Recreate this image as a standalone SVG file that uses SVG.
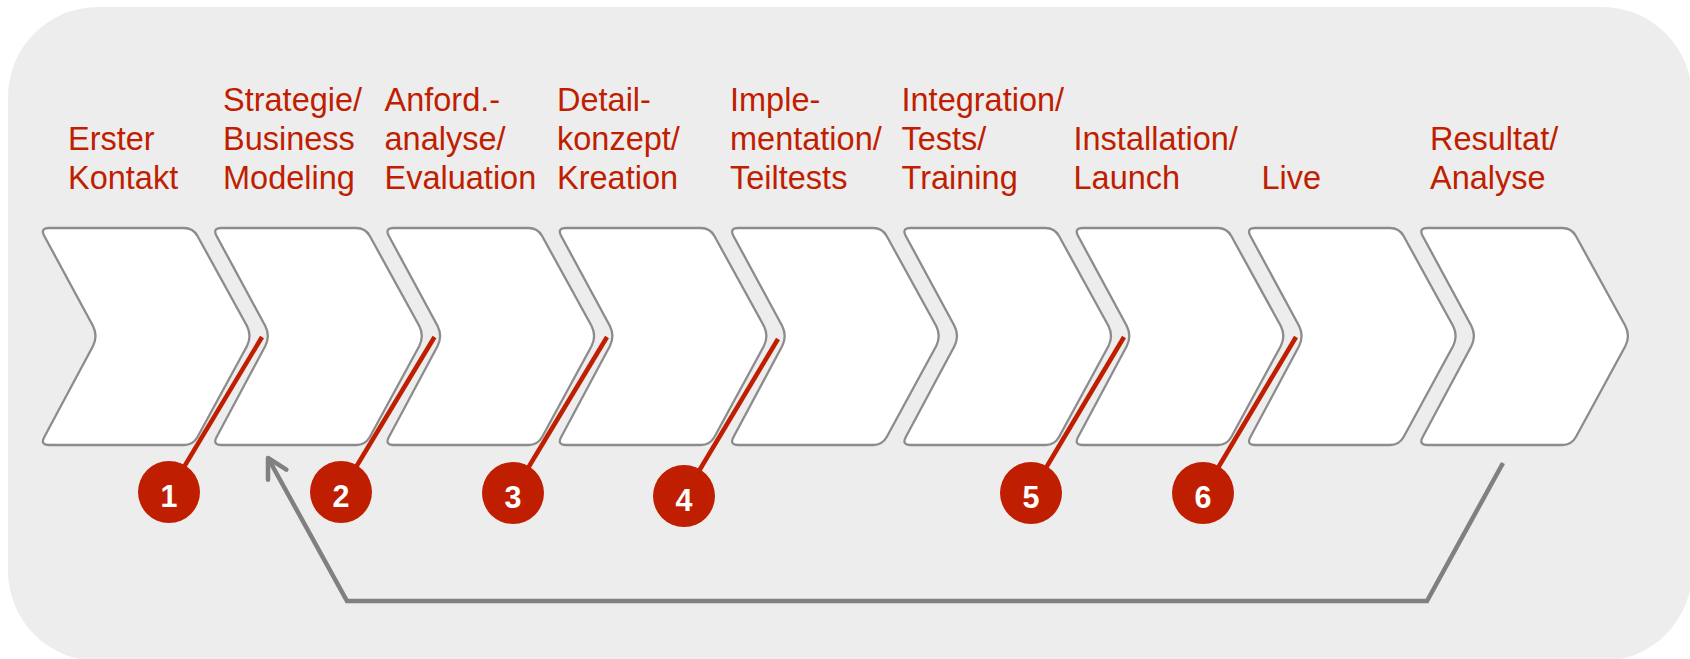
<svg xmlns="http://www.w3.org/2000/svg" xmlns:xlink="http://www.w3.org/1999/xlink" width="1690" height="659" viewBox="0 0 1690 659">
<style>
.lbl{font-family:"Liberation Sans",Arial,sans-serif;font-size:32.5px;fill:#c01e00}
.chev{fill:#ffffff;stroke:#8c8c8c;stroke-width:2.3}
.pin{stroke:#c01e00;stroke-width:4.5;fill:none}
.dot{fill:#c01e00}
.num{font-family:"Liberation Sans",Arial,sans-serif;font-size:30.5px;font-weight:bold;fill:#ffffff;text-anchor:middle}
.ret{fill:none;stroke:#808080;stroke-width:4.5;stroke-linejoin:miter}
</style>
<defs>
<path id="chev" d="M9,228 L144,228 Q153,228 157.5,236 L207,326 Q212,336 207,346 L157.5,437 Q153,445 144,445 L9,445 Q0,445 4.3,437 L53,346 Q58,336 53,326 L4.3,236 Q0,228 9,228 Z"/>
<marker id="arr" markerUnits="userSpaceOnUse" markerWidth="40" markerHeight="40" viewBox="-30 -20 40 40" refX="0" refY="0" orient="auto" overflow="visible">
<path d="M-19,-10.5 L0,0 L-19,10.5" fill="none" stroke="#808080" stroke-width="4.5" stroke-linecap="round" stroke-linejoin="round"/>
</marker>
</defs>
<rect x="8" y="7" width="1684" height="654" rx="90" ry="90" fill="#ededed"/>

<g id="step1"><use xlink:href="#chev" href="#chev" class="chev" x="40"/>
<text class="lbl" x="68" y="150">Erster</text><text class="lbl" x="68" y="189">Kontakt</text></g>
<g id="step2"><use xlink:href="#chev" href="#chev" class="chev" x="212.3"/>
<text class="lbl" x="223" y="111">Strategie/</text><text class="lbl" x="223" y="149.5">Business</text><text class="lbl" x="223" y="188.5">Modeling</text></g>
<g id="step3"><use xlink:href="#chev" href="#chev" class="chev" x="384.6"/>
<text class="lbl" x="384.5" y="111">Anford.-</text><text class="lbl" x="384.5" y="149.5">analyse/</text><text class="lbl" x="384.5" y="188.5">Evaluation</text></g>
<g id="step4"><use xlink:href="#chev" href="#chev" class="chev" x="556.9"/>
<text class="lbl" x="557" y="111">Detail-</text><text class="lbl" x="557" y="149.5">konzept/</text><text class="lbl" x="557" y="188.5">Kreation</text></g>
<g id="step5"><use xlink:href="#chev" href="#chev" class="chev" x="729.2"/>
<text class="lbl" x="730" y="111">Imple-</text><text class="lbl" x="730" y="149.5">mentation/</text><text class="lbl" x="730" y="188.5">Teiltests</text></g>
<g id="step6"><use xlink:href="#chev" href="#chev" class="chev" x="901.5"/>
<text class="lbl" x="901.5" y="111">Integration/</text><text class="lbl" x="901.5" y="149.5">Tests/</text><text class="lbl" x="901.5" y="188.5">Training</text></g>
<g id="step7"><use xlink:href="#chev" href="#chev" class="chev" x="1073.8"/>
<text class="lbl" x="1073.5" y="150">Installation/</text><text class="lbl" x="1073.5" y="189">Launch</text></g>
<g id="step8"><use xlink:href="#chev" href="#chev" class="chev" x="1246.1"/>
<text class="lbl" x="1261.5" y="189">Live</text></g>
<g id="step9"><use xlink:href="#chev" href="#chev" class="chev" x="1418.4"/>
<text class="lbl" x="1430" y="150">Resultat/</text><text class="lbl" x="1430" y="189">Analyse</text></g>

<g id="connectors">
<line class="pin" x1="262" y1="337" x2="169" y2="492"/>
<line class="pin" x1="434.5" y1="337" x2="341" y2="492"/>
<line class="pin" x1="607" y1="337" x2="513" y2="493"/>
<line class="pin" x1="778" y1="339" x2="684" y2="496"/>
<line class="pin" x1="1124" y1="337" x2="1031" y2="493"/>
<line class="pin" x1="1296" y1="337" x2="1203" y2="493"/>
<polyline class="ret" points="1503,463 1427,601 347,601 268,458" marker-end="url(#arr)"/>
</g>

<g id="marker1"><circle class="dot" cx="169" cy="492" r="31"/><text class="num" x="169" y="507">1</text></g>
<g id="marker2"><circle class="dot" cx="341" cy="492" r="31"/><text class="num" x="341" y="507">2</text></g>
<g id="marker3"><circle class="dot" cx="513" cy="493" r="31"/><text class="num" x="513" y="508">3</text></g>
<g id="marker4"><circle class="dot" cx="684" cy="496" r="31"/><text class="num" x="684" y="511">4</text></g>
<g id="marker5"><circle class="dot" cx="1031" cy="493" r="31"/><text class="num" x="1031" y="508">5</text></g>
<g id="marker6"><circle class="dot" cx="1203" cy="493" r="31"/><text class="num" x="1203" y="508">6</text></g>
</svg>
